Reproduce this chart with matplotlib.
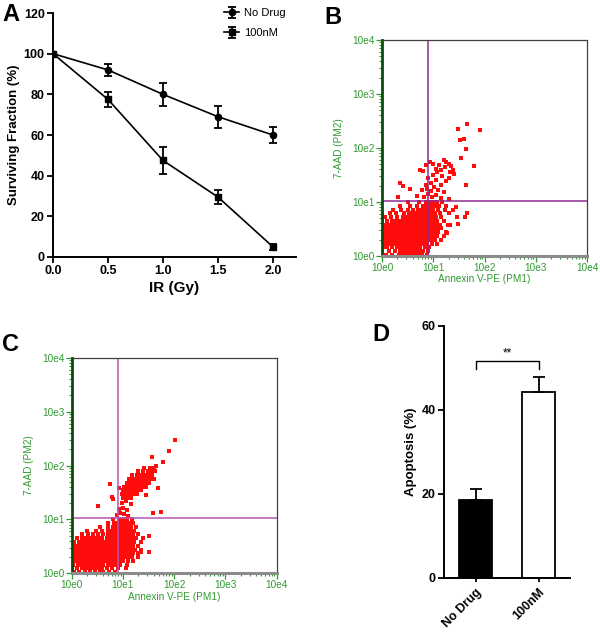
import numpy as np
import matplotlib
matplotlib.use("Agg")
import matplotlib.pyplot as plt
from matplotlib.ticker import FixedLocator, FuncFormatter, LogLocator, NullFormatter

plt.rcParams['font.family'] = ['Liberation Sans', 'DejaVu Sans']

# ---------------- Panel A data ----------------
ir_dose = [0.0, 0.5, 1.0, 1.5, 2.0]
nodrug_surv = [100, 92, 80, 69, 60]
nodrug_err = [0, 3, 5.5, 5.5, 4]
drug_surv = [100, 77.5, 47.5, 29.5, 5]
drug_err = [0, 3.5, 6.5, 3.5, 1.5]
series_labels = ["No Drug", "100nM"]

# ---------------- Panel D data ----------------
groups = ["No Drug", "100nM"]
apoptosis = [18.5, 44.3]
apoptosis_err = [2.6, 3.5]
sig_label = "**"

# ---------------- Flow data (log10 decades: y -> list of x) ----------------
flow_ticks = [1, 10, 100, 1000, 10000]
gate_x_dec = 0.9
gate_y_dec = 1.02

B_rows = {
    0.02: [0.08, 0.2, 0.33, 0.4, 0.47, 0.55, 0.62, 0.7, 0.78, 0.88],
    0.09: [0.0, 0.14, 0.26, 0.36, 0.43, 0.5, 0.58, 0.66, 0.73, 0.8, 0.9],
    0.16: [0.03, 0.1, 0.2, 0.3, 0.38, 0.45, 0.52, 0.6, 0.68, 0.75, 0.83, 0.92],
    0.23: [0.0, 0.07, 0.15, 0.23, 0.3, 0.37, 0.44, 0.51, 0.58, 0.65, 0.72, 0.8, 0.88, 0.97, 1.08],
    0.30: [0.02, 0.1, 0.17, 0.25, 0.32, 0.39, 0.46, 0.53, 0.6, 0.67, 0.74, 0.81, 0.88, 0.95, 1.03, 1.15],
    0.37: [0.0, 0.06, 0.13, 0.21, 0.28, 0.35, 0.42, 0.49, 0.56, 0.63, 0.7, 0.77, 0.84, 0.91, 0.99, 1.07, 1.2],
    0.44: [0.03, 0.1, 0.17, 0.24, 0.31, 0.38, 0.45, 0.52, 0.59, 0.66, 0.73, 0.8, 0.87, 0.94, 1.01, 1.1, 1.25],
    0.51: [0.0, 0.08, 0.15, 0.22, 0.29, 0.36, 0.43, 0.5, 0.57, 0.64, 0.71, 0.78, 0.85, 0.92, 0.99, 1.07, 1.16],
    0.58: [0.04, 0.12, 0.2, 0.27, 0.34, 0.41, 0.48, 0.55, 0.62, 0.69, 0.76, 0.83, 0.9, 0.97, 1.05, 1.13, 1.28],
    0.65: [0.0, 0.1, 0.19, 0.28, 0.36, 0.43, 0.5, 0.57, 0.64, 0.71, 0.78, 0.85, 0.92, 0.99, 1.08, 1.2],
    0.72: [0.06, 0.18, 0.3, 0.4, 0.48, 0.55, 0.62, 0.69, 0.76, 0.83, 0.9, 0.97, 1.05, 1.15],
    0.79: [0.0, 0.15, 0.28, 0.42, 0.52, 0.6, 0.68, 0.75, 0.82, 0.89, 0.96, 1.04, 1.14, 1.3],
    0.86: [0.22, 0.38, 0.5, 0.6, 0.7, 0.78, 0.86, 0.93, 1.0, 1.1, 1.22],
    0.93: [0.35, 0.55, 0.68, 0.8, 0.88, 0.95, 1.03, 1.12, 1.25],
    1.00: [0.5, 0.72, 0.85, 0.93, 1.0, 1.08, 1.18],
}
B_extra = [(0.32, 1.09), (0.55, 1.25), (0.35, 1.36), (0.4, 1.3), (0.68, 1.12), (0.82, 1.1),
           (0.9, 1.15), (0.97, 1.1), (1.05, 1.13), (1.15, 1.08), (1.3, 1.05), (0.78, 1.22),
           (0.88, 1.25), (0.95, 1.2), (1.02, 1.28), (1.1, 1.22), (1.2, 1.18), (0.86, 1.32),
           (0.95, 1.35), (1.05, 1.4), (1.15, 1.32), (1.25, 1.38), (0.74, 1.59), (0.8, 1.57),
           (0.9, 1.45), (1.0, 1.5), (1.08, 1.55), (1.18, 1.48), (1.3, 1.45), (0.94, 1.75),
           (1.05, 1.62), (1.12, 1.68), (1.2, 1.78), (1.25, 1.74), (1.3, 1.7), (1.35, 1.66),
           (1.38, 1.6), (1.15, 1.6), (1.0, 1.7), (1.22, 1.65), (0.86, 1.68), (1.4, 1.52),
           (1.32, 1.56), (1.49, 2.36), (1.66, 2.44), (1.91, 2.33), (1.52, 2.14), (1.6, 2.16),
           (1.64, 1.99), (1.54, 1.81), (1.8, 1.67), (1.64, 1.31), (1.65, 0.79), (1.62, 0.73),
           (1.49, 0.6), (1.44, 0.91), (1.33, 0.57), (1.26, 0.42), (1.46, 0.73), (1.38, 0.85)]

C_rows = {
    0.02: [0.04, 0.15, 0.25, 0.35, 0.45, 0.55, 0.62, 0.72, 0.85],
    0.09: [0.0, 0.1, 0.2, 0.28, 0.36, 0.44, 0.52, 0.6, 0.68, 0.78, 0.9, 1.05],
    0.16: [0.03, 0.12, 0.2, 0.27, 0.34, 0.41, 0.48, 0.55, 0.62, 0.7, 0.78, 0.86, 0.95, 1.08],
    0.23: [0.0, 0.08, 0.16, 0.23, 0.3, 0.37, 0.44, 0.51, 0.58, 0.65, 0.72, 0.79, 0.86, 0.93, 1.0, 1.1, 1.2],
    0.30: [0.04, 0.11, 0.19, 0.26, 0.33, 0.4, 0.47, 0.54, 0.61, 0.68, 0.75, 0.82, 0.89, 0.96, 1.03, 1.1, 1.18, 1.3],
    0.37: [0.0, 0.08, 0.15, 0.22, 0.29, 0.36, 0.43, 0.5, 0.57, 0.64, 0.71, 0.78, 0.85, 0.92, 0.99, 1.06, 1.13, 1.2, 1.3],
    0.44: [0.03, 0.11, 0.18, 0.25, 0.32, 0.39, 0.46, 0.53, 0.6, 0.67, 0.74, 0.81, 0.88, 0.95, 1.02, 1.09, 1.16, 1.24, 1.35],
    0.51: [0.0, 0.07, 0.15, 0.22, 0.29, 0.36, 0.43, 0.5, 0.57, 0.64, 0.71, 0.78, 0.85, 0.92, 0.99, 1.06, 1.13, 1.2, 1.3],
    0.58: [0.05, 0.14, 0.22, 0.3, 0.37, 0.44, 0.51, 0.58, 0.65, 0.72, 0.79, 0.86, 0.93, 1.0, 1.07, 1.14, 1.22, 1.35],
    0.65: [0.1, 0.2, 0.28, 0.36, 0.44, 0.52, 0.6, 0.68, 0.75, 0.82, 0.89, 0.96, 1.03, 1.1, 1.17, 1.26, 1.4],
    0.72: [0.2, 0.32, 0.42, 0.52, 0.62, 0.7, 0.78, 0.85, 0.92, 0.99, 1.06, 1.13, 1.2, 1.3],
    0.79: [0.3, 0.48, 0.6, 0.7, 0.78, 0.86, 0.93, 1.0, 1.07, 1.14, 1.22],
    0.86: [0.55, 0.7, 0.8, 0.88, 0.95, 1.02, 1.09, 1.16, 1.25],
    0.93: [0.7, 0.82, 0.9, 0.97, 1.04, 1.12, 1.2],
    1.00: [0.8, 0.92, 1.0, 1.08, 1.18],
    1.40: [1.0, 1.08, 1.16],
    1.47: [0.98, 1.05, 1.12, 1.2, 1.28],
    1.54: [1.0, 1.07, 1.14, 1.21, 1.28, 1.35],
    1.61: [1.03, 1.1, 1.17, 1.24, 1.31, 1.38, 1.45],
    1.68: [1.08, 1.15, 1.22, 1.29, 1.36, 1.43, 1.5],
    1.75: [1.12, 1.2, 1.27, 1.34, 1.41, 1.48, 1.55],
    1.82: [1.18, 1.28, 1.36, 1.43, 1.5, 1.57],
    1.89: [1.3, 1.4, 1.48, 1.55, 1.62],
    1.96: [1.42, 1.52, 1.6],
}
C_extra = [(0.88, 1.08), (0.95, 1.12), (1.02, 1.1), (1.1, 1.06), (0.92, 1.2), (1.0, 1.22),
           (1.08, 1.18), (0.98, 1.3), (1.06, 1.34), (1.15, 1.28), (0.93, 1.58), (0.75, 1.65),
           (0.78, 1.41), (0.8, 1.37), (0.52, 1.24), (1.74, 1.14), (1.59, 1.11), (1.5, 0.69),
           (1.5, 0.4), (1.35, 0.4), (2.02, 2.47), (1.9, 2.26), (1.79, 2.06), (1.56, 2.16),
           (1.68, 1.59), (1.65, 2.0), (1.45, 1.45), (1.6, 1.75)]

flow_xlabel = "Annexin V-PE (PM1)"
flow_ylabel = "7-AAD (PM2)"

# ---------------- Figure ----------------
W, H = 600, 633
fig = plt.figure(figsize=(W / 100, H / 100), dpi=100)


def fax(x0, y0, x1, y1):
    return fig.add_axes([x0 / W, 1 - y1 / H, (x1 - x0) / W, (y1 - y0) / H])


# Panel A
axA = fax(53, 13, 296, 257)
axA.errorbar(ir_dose, nodrug_surv, yerr=nodrug_err, color='black', marker='o', ms=4.5,
             lw=1.2, elinewidth=1.3, capsize=3, capthick=1.3, label=series_labels[0])
axA.errorbar(ir_dose, drug_surv, yerr=drug_err, color='black', marker='s', ms=4.5,
             lw=1.2, elinewidth=1.3, capsize=3, capthick=1.3, label=series_labels[1])
axA.set_xlim(0, 2.21)
axA.set_ylim(0, 120)
axA.set_xticks([0, 0.5, 1.0, 1.5, 2.0])
axA.set_xticklabels(["0.0", "0.5", "1.0", "1.5", "2.0"])
axA.set_yticks([0, 20, 40, 60, 80, 100, 120])
for s in ['top', 'right']:
    axA.spines[s].set_visible(False)
for s in ['left', 'bottom']:
    axA.spines[s].set_linewidth(1.4)
axA.tick_params(direction='out', length=4, width=1.3, labelsize=9, pad=2)
for lab in axA.get_xticklabels() + axA.get_yticklabels():
    lab.set_fontweight('bold')
axA.set_xlabel("IR (Gy)", fontsize=11, fontweight='bold', labelpad=3)
axA.set_ylabel("Surviving Fraction (%)", fontsize=9.5, fontweight='bold', labelpad=3)
axA.legend(loc='upper right', bbox_to_anchor=(1.0, 1.06), frameon=False,
           fontsize=8, handlelength=1.3, handletextpad=0.5, labelspacing=0.9)


# Flow panels
def flow_panel(ax, rows, extra, gate_color):
    xs, ys = [], []
    for yv, xl in rows.items():
        for xv in xl:
            xs.append(10 ** xv)
            ys.append(10 ** yv)
    for xv, yv in extra:
        xs.append(10 ** xv)
        ys.append(10 ** yv)
    ax.plot(xs, ys, ls='none', marker='s', ms=2.9, mew=0, color='#ff0d0d', clip_on=True)
    ax.set_xscale('log')
    ax.set_yscale('log')
    ax.set_xlim(1, 1e4)
    ax.set_ylim(1, 1e4)
    ax.axvline(10 ** gate_x_dec, color=gate_color, lw=1.1)
    ax.axhline(10 ** gate_y_dec, color=gate_color, lw=1.1)
    fmt = FuncFormatter(lambda v, p: "10e%d" % int(round(np.log10(v))))
    ax.xaxis.set_major_locator(FixedLocator(flow_ticks))
    ax.yaxis.set_major_locator(FixedLocator(flow_ticks))
    ax.xaxis.set_major_formatter(fmt)
    ax.yaxis.set_major_formatter(fmt)
    ax.xaxis.set_minor_locator(LogLocator(base=10, subs=np.arange(2, 10), numticks=20))
    ax.yaxis.set_minor_locator(LogLocator(base=10, subs=np.arange(2, 10), numticks=20))
    ax.xaxis.set_minor_formatter(NullFormatter())
    ax.yaxis.set_minor_formatter(NullFormatter())
    green = '#2f9a2f'
    ax.tick_params(which='major', direction='out', length=4, width=0.9, color=green,
                   labelcolor=green, labelsize=7.2, pad=1)
    ax.tick_params(which='minor', direction='out', length=2.5, width=0.8, color=green)
    ax.spines['left'].set_color('#0d4a0d')
    ax.spines['left'].set_linewidth(2)
    ax.spines['bottom'].set_color('#8c8c8c')
    ax.spines['bottom'].set_linewidth(2.2)
    ax.spines['top'].set_color('#404040')
    ax.spines['right'].set_color('#404040')
    ax.spines['top'].set_linewidth(0.9)
    ax.spines['right'].set_linewidth(0.9)
    ax.set_xlabel(flow_xlabel, color=green, fontsize=7.2, labelpad=1)
    ax.set_ylabel(flow_ylabel, color=green, fontsize=7.2, labelpad=6)


axB = fax(382, 40, 587, 256)
flow_panel(axB, B_rows, B_extra, '#8e2a8e')
axC = fax(71.7, 357.7, 276.7, 573.3)
flow_panel(axC, C_rows, C_extra, '#b457b4')

# Panel D
axD = fax(444, 325.7, 570, 577.7)
xpos = [0, 1]
axD.bar(xpos, apoptosis, width=0.51, color=['black', 'white'], edgecolor='black', linewidth=1.3)
for xp, v, e in zip(xpos, apoptosis, apoptosis_err):
    axD.errorbar([xp], [v], yerr=[[0], [e]], color='black', elinewidth=1.3, capsize=4.5, capthick=1.3)
axD.set_xlim(-0.5, 1.5)
axD.set_ylim(0, 60)
axD.set_yticks([0, 20, 40, 60])
axD.set_xticks(xpos)
axD.set_xticklabels(groups, rotation=45, ha='right', rotation_mode='anchor')
for s in ['top', 'right']:
    axD.spines[s].set_visible(False)
for s in ['left', 'bottom']:
    axD.spines[s].set_linewidth(1.4)
axD.tick_params(direction='out', length=4, width=1.3, labelsize=9, pad=2)
axD.tick_params(axis='x', length=3, pad=3)
for lab in axD.get_xticklabels() + axD.get_yticklabels():
    lab.set_fontweight('bold')
axD.set_ylabel("Apoptosis (%)", fontsize=9.5, fontweight='bold', labelpad=3)
br_y, br_low = 51.7, 49.6
axD.plot([0, 0, 1, 1], [br_low, br_y, br_y, br_low], color='black', lw=1.0)
axD.text(0.5, br_y + 0.3, sig_label, ha='center', va='bottom', fontsize=8.5)

# Panel letters
for letter, (x, y) in {"A": (2, 3), "B": (324, 6), "C": (2, 333), "D": (372, 323)}.items():
    fig.text(x / W, 1 - y / H, letter, fontsize=17, fontweight='bold', ha='left', va='top')

fig.savefig("out.png", dpi=100)
